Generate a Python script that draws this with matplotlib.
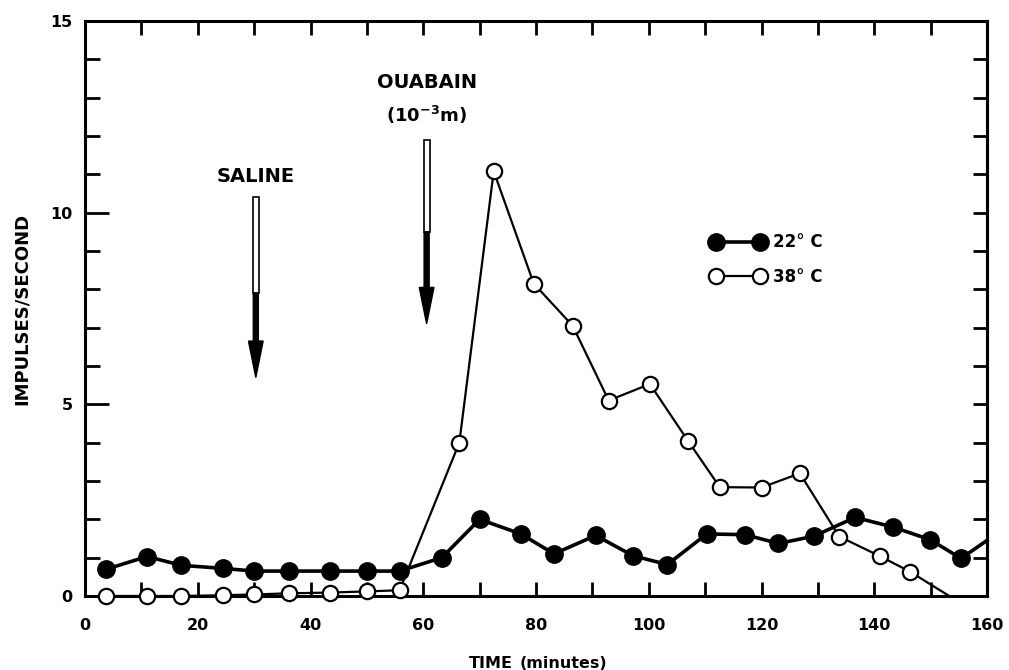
import matplotlib
matplotlib.use('Agg')
import matplotlib.pyplot as plt
import matplotlib.ticker as ticker
from matplotlib.patches import Rectangle, FancyArrow

plt.rcParams['font.family'] = ['DejaVu Sans']
plt.rcParams['font.weight'] = 'bold'

# 22 C (filled circles); last point has no marker, line runs to the frame
time_22 = [3.8, 11, 17.1, 24.5, 30, 36.2, 43.5, 50, 55.8, 63.3, 70, 77.3, 83.2,
           90.6, 97.2, 103.3, 110.3, 117.1, 123, 129.3, 136.6, 143.3, 149.9, 155.4, 160]
imp_22 = [0.7, 1.03, 0.8, 0.72, 0.65, 0.65, 0.65, 0.65, 0.65, 1.0, 2.0, 1.62, 1.1,
          1.58, 1.05, 0.82, 1.62, 1.6, 1.37, 1.56, 2.05, 1.8, 1.47, 0.98, 1.45]

# 38 C (open circles); last point has no marker, line ends on the axis
time_38 = [3.8, 11, 17.1, 24.5, 30, 36.2, 43.5, 50, 55.8, 66.4, 72.5, 79.6, 86.5,
           92.9, 100.2, 107, 112.6, 120, 126.8, 133.8, 141, 146.4, 153.3]
imp_38 = [0.0, 0.0, 0.0, 0.02, 0.04, 0.07, 0.09, 0.12, 0.15, 4.0, 11.08, 8.15, 7.05,
          5.1, 5.53, 4.04, 2.84, 2.83, 3.2, 1.55, 1.04, 0.63, 0.0]

# arrows: x position, hollow top, hollow bottom, tip
arrow_x = [30.3, 60.6]
arrow_top = [10.4, 11.9]
arrow_mid = [7.9, 9.5]
arrow_tip = [5.7, 7.1]

fig = plt.figure(figsize=(10.09, 6.70), dpi=100)
ax = fig.add_axes([85 / 1009, 1 - 596 / 670, 902 / 1009, 575 / 670])

ax.plot(time_22, imp_22, color='black', lw=2.6, marker='o', markersize=12.5,
        markerfacecolor='black', markeredgecolor='black',
        markevery=list(range(len(time_22) - 1)), clip_on=False, zorder=3,
        label='22° C')
ax.plot(time_38, imp_38, color='black', lw=1.6, marker='o', markersize=11,
        markerfacecolor='white', markeredgecolor='black', markeredgewidth=1.6,
        markevery=list(range(len(time_38) - 1)), clip_on=False, zorder=4,
        label='38° C')

ax.set_xlim(0, 160)
ax.set_ylim(0, 15)

for s in ax.spines.values():
    s.set_linewidth(2.2)

ax.xaxis.set_major_locator(ticker.MultipleLocator(20))
ax.xaxis.set_minor_locator(ticker.MultipleLocator(10))
ax.yaxis.set_major_locator(ticker.MultipleLocator(5))
ax.yaxis.set_minor_locator(ticker.MultipleLocator(1))

ax.tick_params(axis='x', which='both', direction='in', top=True, length=10,
               width=2, pad=16, labelsize=11.5)
ax.tick_params(axis='y', which='major', direction='in', length=17, width=2,
               pad=9, labelsize=11.5)
ax.tick_params(axis='y', which='minor', direction='in', length=11, width=2)

# right-hand ticks, all short
ax_r = ax.secondary_yaxis('right')
ax_r.yaxis.set_major_locator(ticker.MultipleLocator(1))
ax_r.tick_params(direction='in', length=10, width=2, labelright=False)
ax_r.spines['right'].set_linewidth(2.2)

ax.set_ylabel('IMPULSES/SECOND', fontsize=13, fontweight='bold', labelpad=14)
ax.text(0.474, -0.118, 'TIME', transform=ax.transAxes, ha='right', va='center',
        fontsize=11.5, fontweight='bold')
ax.text(0.482, -0.118, '(minutes)', transform=ax.transAxes, ha='left', va='center',
        fontsize=11.5, fontweight='bold')

# drug application arrows
for x, top, mid, tip in zip(arrow_x, arrow_top, arrow_mid, arrow_tip):
    ax.add_patch(Rectangle((x - 0.55, mid), 1.1, top - mid, facecolor='white',
                           edgecolor='black', lw=1.2, zorder=2))
    ax.add_patch(FancyArrow(x, mid, 0, tip - mid, width=0.9, head_width=2.6,
                            head_length=0.95, length_includes_head=True,
                            color='black', zorder=2))

ax.text(arrow_x[0], 10.95, 'SALINE', ha='center', va='center', fontsize=14,
        fontweight='bold')
ax.text(arrow_x[1], 13.4, 'OUABAIN', ha='center', va='center', fontsize=14,
        fontweight='bold')
ax.text(arrow_x[1], 12.55, '(10$^{\\mathbf{-3}}$m)', ha='center', va='center',
        fontsize=13, fontweight='bold')

ax.legend(loc='upper left', bbox_to_anchor=(0.685, 0.645), frameon=False,
          numpoints=2, handlelength=3.2, handletextpad=0.5, labelspacing=1.0,
          prop={'size': 12, 'weight': 'bold'}, borderpad=0)

fig.savefig('out.png', dpi=100)
